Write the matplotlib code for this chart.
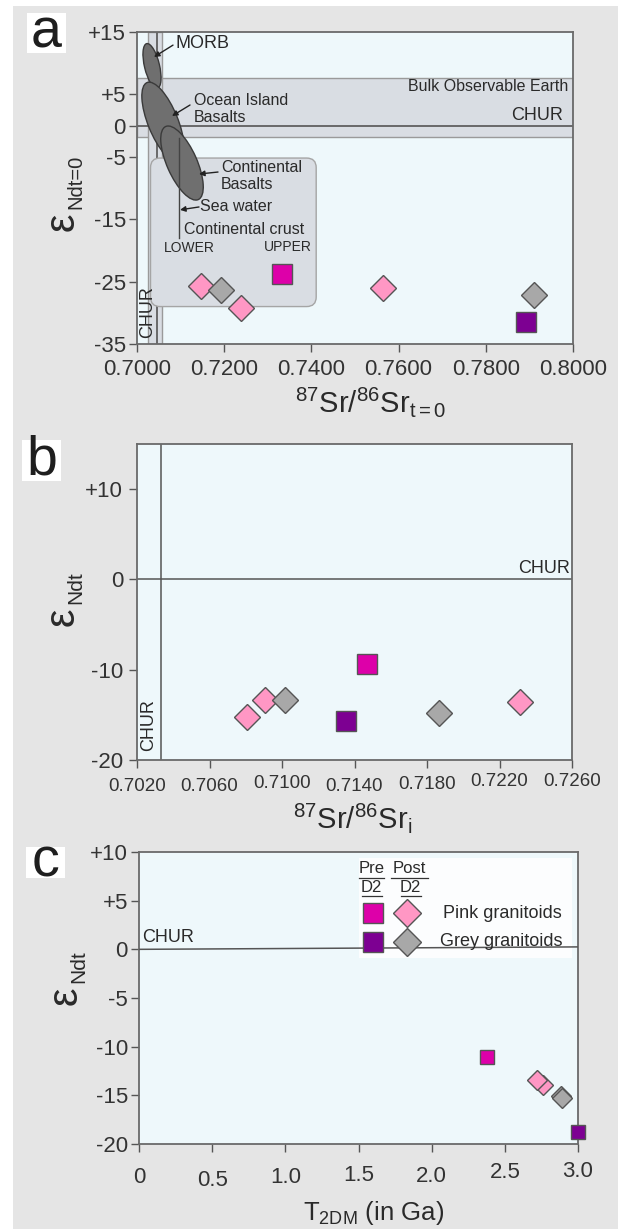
import numpy as np
import matplotlib
matplotlib.use('Agg')
import matplotlib.pyplot as plt
from matplotlib.patches import Rectangle, Ellipse, FancyBboxPatch
from matplotlib.transforms import ScaledTranslation

plt.rcParams['font.family'] = ['Liberation Sans', 'DejaVu Sans']
plt.rcParams['mathtext.fontset'] = 'custom'
plt.rcParams['mathtext.rm'] = 'Liberation Sans'
plt.rcParams['mathtext.it'] = 'Liberation Sans'
plt.rcParams['mathtext.bf'] = 'Liberation Sans:bold'

# ---------------- data ----------------
# panel a : 87Sr/86Sr (t=0) vs eNd (t=0)
a_post_pink_x = [0.7147, 0.7239, 0.7565]
a_post_pink_y = [-25.7, -29.2, -26.1]
a_post_grey_x = [0.7193, 0.7910]
a_post_grey_y = [-26.4, -27.2]
a_pre_pink_x = [0.7333]
a_pre_pink_y = [-23.8]
a_pre_grey_x = [0.7892]
a_pre_grey_y = [-31.4]
a_xticks = [0.70, 0.72, 0.74, 0.76, 0.78, 0.80]
a_xticklabels = ['0.7000', '0.7200', '0.7400', '0.7600', '0.7800', '0.8000']
a_yticks = [15, 5, 0, -5, -15, -25, -35]
a_yticklabels = ['+15', '+5', '0', '-5', '-15', '-25', '-35']
# reference fields (panel a)
bulk_earth_band = (-1.8, 7.7)
chur_band_sr = (0.70245, 0.7058)
chur_sr = 0.7046
crust_box = (0.7031, -29.0, 0.7411, -5.2)
lower_crust_sr = 0.7097
lower_crust_eps = (-2.0, -18.0)
# fields: centre (Sr, eNd), length (in), width (in), angle (deg)
fields = [
    ((0.70344, 9.55), 0.46, 0.15, -76.6),   # MORB
    ((0.70596, 0.58), 0.85, 0.30, -68.0),   # Ocean island basalts
    ((0.71032, -6.0), 0.80, 0.30, -66.0),   # Continental basalts
]

# panel b : 87Sr/86Sr initial vs eNd(t)
b_post_pink_x = [0.70808, 0.70908, 0.72312]
b_post_pink_y = [-15.2, -13.4, -13.6]
b_post_grey_x = [0.71019, 0.71864]
b_post_grey_y = [-13.3, -14.8]
b_pre_pink_x = [0.71468]
b_pre_pink_y = [-9.4]
b_pre_grey_x = [0.71352]
b_pre_grey_y = [-15.7]
b_xticks = [0.7020, 0.7060, 0.7100, 0.7140, 0.7180, 0.7220, 0.7260]
b_xticklabels = ['0.7020', '0.7060', '0.7100', '0.7140', '0.7180', '0.7220', '0.7260']
b_yticks = [10, 0, -10, -20]
b_yticklabels = ['+10', '0', '-10', '-20']
b_chur_sr = 0.70335

# panel c : T2DM vs eNd(t)
c_post_pink_x = [2.758, 2.717]
c_post_pink_y = [-13.9, -13.46]
c_post_grey_x = [2.885, 2.890]
c_post_grey_y = [-15.1, -15.3]
c_pre_pink_x = [2.378]
c_pre_pink_y = [-11.1]
c_pre_grey_x = [3.0]
c_pre_grey_y = [-18.8]
c_xticks = [0, 0.5, 1.0, 1.5, 2.0, 2.5, 3.0]
c_xticklabels = ['0', '0.5', '1.0', '1.5', '2.0', '2.5', '3.0']
c_yticks = [10, 5, 0, -5, -10, -15, -20]
c_yticklabels = ['+10', '+5', '0', '-5', '-10', '-15', '-20']
c_chur_x = [0.0, 3.0]
c_chur_y = [0.0, 0.25]

# ---------------- style ----------------
PINK = '#ff97c4'
GREY = '#a8a8a8'
MAGENTA = '#dd00a9'
PURPLE = '#7d0092'
EDGE = '#555555'
AX_FACE = '#eef8fb'
BAND = '#d9dde3'
BG = '#e5e5e5'
TXT = '#2a2a2a'

# small hand-lettering offsets of tick labels (pixels, upward)
b_label_lift = [0, 0, 3, 0, 2, 5, 5]
c_label_lift = [1, -2, 1, 3, 2, 6, 7]

W, H = 618, 1229
fig = plt.figure(figsize=(W / 100, H / 100), dpi=100)
fig.patch.set_facecolor('white')


def fx(px):
    return px / W


def fy(py):
    return 1 - py / H


fig.add_artist(Rectangle((fx(13), 0), 1 - fx(13), fy(6), transform=fig.transFigure,
                         facecolor=BG, edgecolor='none', zorder=0))


def make_ax(x0, y0, x1, y1):
    ax = fig.add_axes([fx(x0), fy(y1), fx(x1) - fx(x0), (y1 - y0) / H])
    ax.set_facecolor(AX_FACE)
    for s in ax.spines.values():
        s.set_color('#6a6a6a')
        s.set_linewidth(1.3)
    ax.tick_params(direction='out', length=6, width=1, color='#555555',
                   labelcolor='#333333', labelsize=16)
    ax.tick_params(axis='x', top=False)
    ax.tick_params(axis='y', right=False)
    return ax


def lift_labels(ax, lifts):
    for lab, d in zip(ax.get_xticklabels(), lifts):
        lab.set_transform(lab.get_transform() +
                          ScaledTranslation(0, d / 100, fig.dpi_scale_trans))


def panel_label(letter, x0, y0, x1, y1, size):
    fig.add_artist(Rectangle((fx(x0), fy(y1)), fx(x1) - fx(x0), (y1 - y0) / H,
                             transform=fig.transFigure, facecolor='white',
                             edgecolor='none', zorder=1))
    fig.text(fx((x0 + x1) / 2), fy((y0 + y1) / 2), letter, ha='center', va='center',
             fontsize=size, color='#1e1e1e', zorder=2)


def eps_label(xe, ye, xs, ys, sub, size_e=30, size_s=15):
    fig.text(fx(xe), fy(ye), 'ε', rotation=90, ha='center', va='center',
             fontsize=size_e, color=TXT)
    fig.text(fx(xs), fy(ys), sub, rotation=90, ha='center', va='center',
             fontsize=size_s, color=TXT)


def points(ax, px, py, pxg, pyg, qx, qy, qxg, qyg, dms, sms):
    ax.plot(qx, qy, 's', ms=sms, mfc=MAGENTA, mec=EDGE, mew=1, ls='none', zorder=6, clip_on=False)
    ax.plot(qxg, qyg, 's', ms=sms, mfc=PURPLE, mec=EDGE, mew=1, ls='none', zorder=6, clip_on=False)
    ax.plot(px, py, 'D', ms=dms, mfc=PINK, mec=EDGE, mew=1, ls='none', zorder=6, clip_on=False)
    ax.plot(pxg, pyg, 'D', ms=dms, mfc=GREY, mec=EDGE, mew=1, ls='none', zorder=6, clip_on=False)


# ================= panel a =================
axa = make_ax(137, 32, 573, 344)
axa.set_xlim(0.70, 0.80)
axa.set_ylim(-35, 15)
axa.set_xticks(a_xticks)
axa.set_xticklabels(a_xticklabels)
axa.set_yticks(a_yticks)
axa.set_yticklabels(a_yticklabels)
axa.tick_params(axis='x', pad=5)
axa.tick_params(axis='y', pad=2)

axa.axhspan(*bulk_earth_band, facecolor=BAND, edgecolor='#9a9a9a', lw=1, zorder=1)
axa.axvspan(*chur_band_sr, facecolor=BAND, edgecolor='#9a9a9a', lw=1, zorder=1)
axa.axhline(0, color='#555555', lw=1.2, zorder=2)
axa.axvline(chur_sr, color='#555555', lw=1.2, zorder=2)

aspect = (50 / 312) / (0.1 / 436)
cx0, cy0, cx1, cy1 = crust_box
axa.add_patch(FancyBboxPatch((cx0, cy0), cx1 - cx0, cy1 - cy0,
                             boxstyle='round,pad=0,rounding_size=0.0022',
                             mutation_aspect=aspect, facecolor=BAND,
                             edgecolor='#a5a5a5', lw=1, zorder=2))

for (c, L, Wd, ang) in fields:
    tr = fig.dpi_scale_trans + ScaledTranslation(c[0], c[1], axa.transData)
    axa.add_patch(Ellipse((0, 0), L, Wd, angle=ang, transform=tr,
                          facecolor='#6f6f6f', edgecolor='#3a3a3a', lw=1, zorder=3))

axa.plot([lower_crust_sr, lower_crust_sr], lower_crust_eps, color='#444444', lw=1, zorder=4)

arrow = dict(arrowstyle='-|>', color='#222222', lw=1, mutation_scale=8, shrinkA=0, shrinkB=0)
axa.annotate('', xy=(0.7039, 11.0), xytext=(0.70826, 12.9), arrowprops=arrow, zorder=5)
axa.annotate('', xy=(0.70803, 1.54), xytext=(0.71216, 3.3), arrowprops=arrow, zorder=5)
axa.annotate('', xy=(0.71422, -7.76), xytext=(0.71858, -7.44), arrowprops=arrow, zorder=5)
axa.annotate('', xy=(0.70986, -13.5), xytext=(0.71422, -13.04), arrowprops=arrow, zorder=5)

axa.text(0.70872, 13.1, 'MORB', fontsize=13, color=TXT, va='center', ha='left', zorder=5)
axa.text(0.71307, 2.66, 'Ocean Island\nBasalts', fontsize=11.5, color=TXT, va='center',
         ha='left', linespacing=1.1, zorder=5)
axa.text(0.71927, -8.08, 'Continental\nBasalts', fontsize=11.5, color=TXT, va='center',
         ha='left', linespacing=1.1, zorder=5)
axa.text(0.71440, -13.04, 'Sea water', fontsize=11.5, color=TXT, va='center', ha='left', zorder=5)
axa.text(0.71078, -16.6, 'Continental crust', fontsize=11.5, color=TXT, va='center', ha='left', zorder=5)
axa.text(0.70619, -19.6, 'LOWER', fontsize=10, color=TXT, va='center', ha='left', zorder=5)
axa.text(0.72913, -19.45, 'UPPER', fontsize=10, color=TXT, va='center', ha='left', zorder=5)
axa.text(0.79885, 6.19, 'Bulk Observable Earth', fontsize=11.5, color=TXT, va='center', ha='right', zorder=5)
axa.text(0.7977, 0.3, 'CHUR', fontsize=13, color=TXT, va='bottom', ha='right', zorder=5)
axa.text(0.70241, -29.9, 'CHUR', fontsize=13, color=TXT, va='center', ha='center',
         rotation=90, zorder=5)

points(axa, a_post_pink_x, a_post_pink_y, a_post_grey_x, a_post_grey_y,
       a_pre_pink_x, a_pre_pink_y, a_pre_grey_x, a_pre_grey_y, dms=13.3, sms=14)

panel_label('a', 27, 13, 66, 53, 40)
eps_label(63, 222, 76, 182, 'Ndt=0', size_s=14.5)
fig.text(fx(370), fy(412), r'$^{87}$Sr/$^{86}$Sr$_{\mathrm{t=0}}$', fontsize=21,
         ha='center', va='baseline', color=TXT)

# ================= panel b =================
axb = make_ax(137, 444, 572, 760)
axb.set_xlim(0.7020, 0.7260)
axb.set_ylim(-20, 15)
axb.set_xticks(b_xticks)
axb.set_xticklabels(b_xticklabels)
axb.set_yticks(b_yticks)
axb.set_yticklabels(b_yticklabels)
axb.tick_params(axis='x', labelsize=13.5, pad=7)
axb.tick_params(axis='y', pad=4)
lift_labels(axb, b_label_lift)
axb.axhline(0, color='#555555', lw=1.1, zorder=2)
axb.axvline(b_chur_sr, color='#555555', lw=1.1, zorder=2)
axb.text(0.72587, 0.3, 'CHUR', fontsize=13, color=TXT, va='bottom', ha='right', zorder=5)
axb.text(0.70266, -16.1, 'CHUR', fontsize=13, color=TXT, va='center', ha='center',
         rotation=90, zorder=5)
points(axb, b_post_pink_x, b_post_pink_y, b_post_grey_x, b_post_grey_y,
       b_pre_pink_x, b_pre_pink_y, b_pre_grey_x, b_pre_grey_y, dms=13.3, sms=14)

panel_label('b', 22, 440, 61, 481, 40)
eps_label(63, 617, 76, 588, 'Ndt')
fig.text(fx(353), fy(828), r'$^{87}$Sr/$^{86}$Sr$_{\mathrm{i}}$', fontsize=21,
         ha='center', va='baseline', color=TXT)

# ================= panel c =================
axc = make_ax(139, 852, 578, 1144)
axc.set_xlim(0, 3.0)
axc.set_ylim(-20, 10)
axc.set_xticks(c_xticks)
axc.set_xticklabels(c_xticklabels)
axc.set_yticks(c_yticks)
axc.set_yticklabels(c_yticklabels)
axc.tick_params(axis='x', pad=11)
axc.tick_params(axis='y', pad=2)
lift_labels(axc, c_label_lift)

# legend box
axc.add_patch(Rectangle((0.501, 0.637), 0.485, 0.342, transform=axc.transAxes,
                        facecolor='white', alpha=0.85, edgecolor='none', zorder=2))
axc.plot(c_chur_x, c_chur_y, color='#555555', lw=1.1, zorder=3)
axc.text(0.02, 0.35, 'CHUR', fontsize=13, color=TXT, va='bottom', ha='left', zorder=5)

lt = axc.transAxes
axc.text(0.530, 0.942, 'Pre', transform=lt, fontsize=12, ha='center', va='center', color=TXT, zorder=5)
axc.text(0.530, 0.877, 'D2', transform=lt, fontsize=12, ha='center', va='center', color=TXT, zorder=5)
axc.text(0.616, 0.942, 'Post', transform=lt, fontsize=12, ha='center', va='center', color=TXT, zorder=5)
axc.text(0.619, 0.877, 'D2', transform=lt, fontsize=12, ha='center', va='center', color=TXT, zorder=5)
for (u0, u1, uy) in [(0.501, 0.558, 0.912), (0.508, 0.554, 0.848),
                     (0.574, 0.658, 0.912), (0.597, 0.642, 0.848)]:
    axc.plot([u0, u1], [uy, uy], transform=lt, color='#333333', lw=0.9, zorder=5)
axc.plot([0.533], [0.791], 's', transform=lt, ms=14, mfc=MAGENTA, mec=EDGE, mew=1, zorder=6)
axc.plot([0.533], [0.692], 's', transform=lt, ms=14, mfc=PURPLE, mec=EDGE, mew=1, zorder=6)
axc.plot([0.610], [0.791], 'D', transform=lt, ms=13.8, mfc=PINK, mec=EDGE, mew=1, zorder=6)
axc.plot([0.610], [0.692], 'D', transform=lt, ms=13.8, mfc=GREY, mec=EDGE, mew=1, zorder=6)
axc.text(0.9636, 0.791, 'Pink granitoids', transform=lt, fontsize=13, ha='right', va='center',
         color=TXT, zorder=5)
axc.text(0.9636, 0.692, 'Grey granitoids', transform=lt, fontsize=13, ha='right', va='center',
         color=TXT, zorder=5)

points(axc, c_post_pink_x, c_post_pink_y, c_post_grey_x, c_post_grey_y,
       c_pre_pink_x, c_pre_pink_y, c_pre_grey_x, c_pre_grey_y, dms=10.3, sms=9.5)

panel_label('c', 26, 847, 65, 878, 40)
eps_label(66, 996, 79, 967, 'Ndt')
fig.text(fx(374), fy(1220), r'T$_{\mathrm{2DM}}$ (in Ga)', fontsize=18.5,
         ha='center', va='baseline', color=TXT)

fig.savefig('out.png', dpi=100, facecolor=fig.get_facecolor())
